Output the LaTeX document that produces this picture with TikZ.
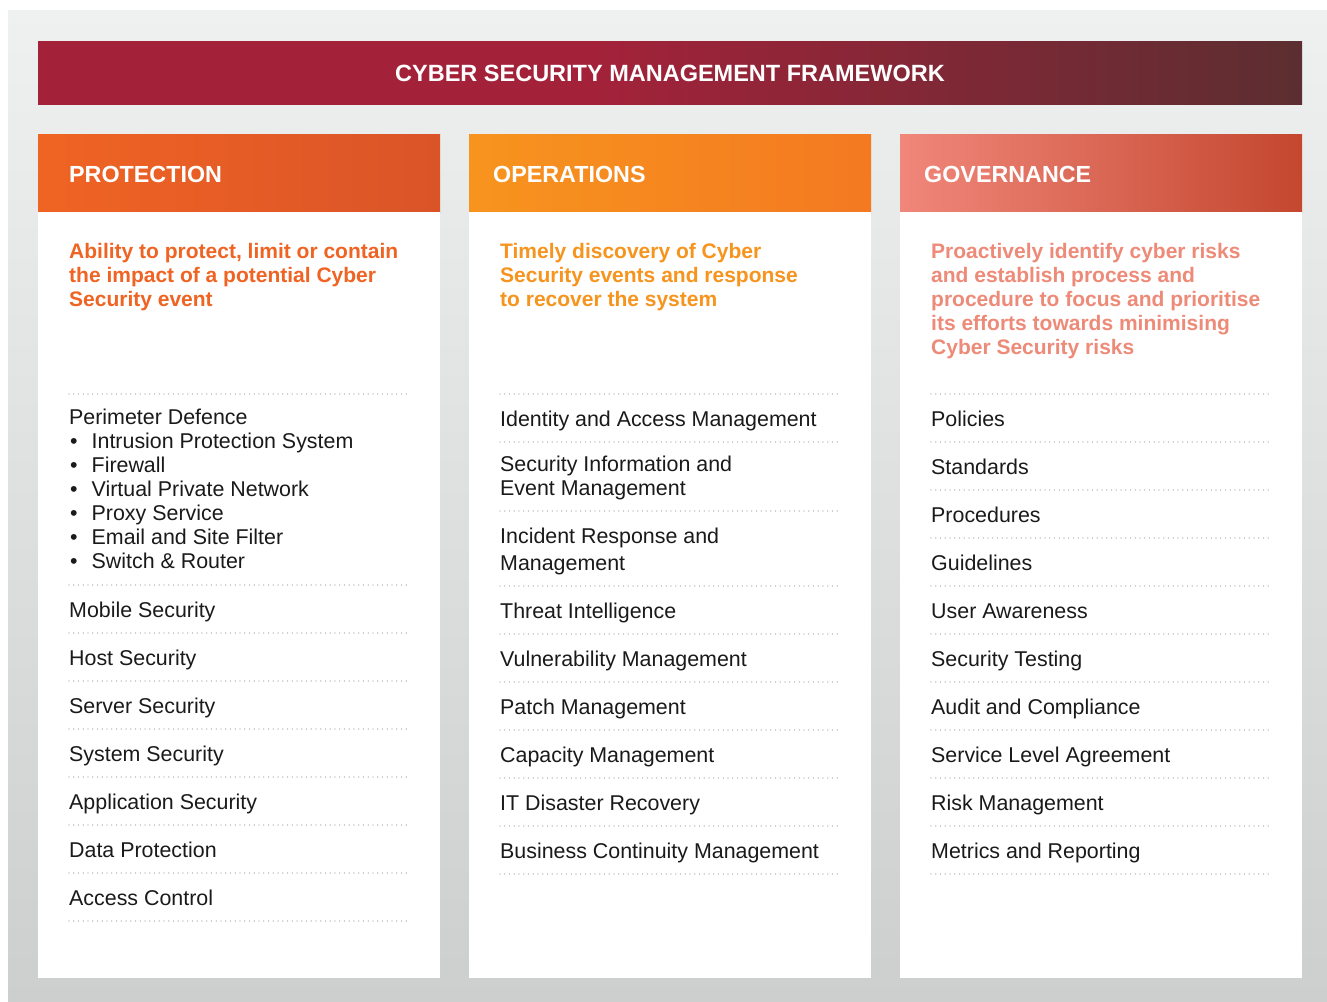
\documentclass[tikz,border=0pt]{standalone}
\usepackage{fontspec}
\setmainfont{Liberation Sans}
\definecolor{bgtop}{HTML}{EFF0F0}
\definecolor{bgbot}{HTML}{CDCFCF}
\definecolor{titleA}{HTML}{A3223A}
\definecolor{titleB}{HTML}{5C2E31}
\definecolor{pA}{HTML}{F06423}
\definecolor{pB}{HTML}{DA5428}
\definecolor{oA}{HTML}{F7941E}
\definecolor{oB}{HTML}{F47921}
\definecolor{gA}{HTML}{F0877A}
\definecolor{gB}{HTML}{C4472F}
\definecolor{cP}{HTML}{F06423}
\definecolor{cO}{HTML}{F7941E}
\definecolor{cG}{HTML}{EE8A78}
\definecolor{txt}{HTML}{1A1A1A}
\definecolor{dotc}{HTML}{9A9A9A}
\pgfdeclarehorizontalshading{titlesh}{100bp}{color(0bp)=(titleA); color(25bp)=(titleA); color(47bp)=(titleA); color(75bp)=(titleB); color(100bp)=(titleB)}
\tikzset{
  hdr/.style={anchor=base west, inner sep=0pt, text=white, font=\fontsize{23.3}{27}\selectfont\bfseries},
  desc/.style={anchor=base west, inner sep=0pt, align=left, font=\fontsize{21}{24}\selectfont\bfseries},
  item/.style={anchor=base west, inner sep=0pt, align=left, text=txt, font=\fontsize{21.4}{24}\selectfont},
  sep/.style={draw=dotc, line width=1.4pt, dash pattern=on 0pt off 4.75pt, line cap=round},
}
\newcommand{\bul}{\makebox[22.5pt][l]{\hspace{1pt}•}}
\begin{document}
\begin{tikzpicture}[x=1pt,y=-1pt]
\useasboundingbox (0,0) rectangle (1327,1001);
\fill[white] (0,0) rectangle (1327,1001);
\shade[top color=bgtop, bottom color=bgbot] (8,10) rectangle (1327,1001);
% title bar
\shade[shading=titlesh] (38,41) rectangle (1302,104);
\node[anchor=base, inner sep=0pt, text=white, font=\fontsize{23.5}{27}\selectfont\bfseries] (title) at (670,81) {CYBER SECURITY MANAGEMENT FRAMEWORK};
% column headers and bodies
\shade[left color=pA, right color=pB] (38,134) rectangle (440,212);
\shade[left color=oA, right color=oB] (469,134) rectangle (871,212);
\shade[left color=gA, right color=gB] (900,134) rectangle (1302,212);
\fill[white] (38,212) rectangle (440,978);
\fill[white] (469,212) rectangle (871,978);
\fill[white] (900,212) rectangle (1302,978);
\node[hdr] (h1) at (69,182) {PROTECTION};
\node[hdr] (h2) at (493,182) {OPERATIONS};
\node[hdr] (h3) at (924,182) {GOVERNANCE};
% descriptions (base anchor = baseline of last line)
\node[desc, text=cP] (d1) at (69,306) {Ability to protect, limit or contain\\the impact of a potential Cyber\\Security event};
\node[desc, text=cO] (d2) at (500,306) {Timely discovery of Cyber\\Security events and response\\to recover the system};
\node[desc, text=cG] (d3) at (931,354) {Proactively identify cyber risks\\and establish process and\\procedure to focus and prioritise\\its efforts towards minimising\\Cyber Security risks};
% separators
\foreach \y in {394,585,633,681,729,777,825,873,921} \draw[sep] (69,\y) -- (410,\y);
\foreach \y in {394,442,511,586,634,682,730,778,826,874} \draw[sep] (500,\y) -- (841,\y);
\foreach \y in {394,442,490,538,586,634,682,730,778,826,874} \draw[sep] (931,\y) -- (1272,\y);
% column 1 items
\node[item] (p1) at (69,568) {Perimeter Defence\\\bul Intrusion Protection System\\\bul Firewall\\\bul Virtual Private Network\\\bul Proxy Service\\\bul Email and Site Filter\\\bul Switch \& Router};
\node[item] (p2) at (69,617) {Mobile Security};
\node[item] (p3) at (69,665) {Host Security};
\node[item] (p4) at (69,713) {Server Security};
\node[item] (p5) at (69,761) {System Security};
\node[item] (p6) at (69,809) {Application Security};
\node[item] (p7) at (69,857) {Data Protection};
\node[item] (p8) at (69,905) {Access Control};
% column 2 items
\node[item] (o1) at (500,426) {Identity and Access Management};
\node[item] (o2) at (500,495) {Security Information and\\Event Management};
\node[item] (o3) at (500,570) {Incident Response and\\[3pt]Management};
\node[item] (o4) at (500,618) {Threat Intelligence};
\node[item] (o5) at (500,666) {Vulnerability Management};
\node[item] (o6) at (500,714) {Patch Management};
\node[item] (o7) at (500,762) {Capacity Management};
\node[item] (o8) at (500,810) {IT Disaster Recovery};
\node[item] (o9) at (500,858) {Business Continuity Management};
% column 3 items
\node[item] (g1) at (931,426) {Policies};
\node[item] (g2) at (931,474) {Standards};
\node[item] (g3) at (931,522) {Procedures};
\node[item] (g4) at (931,570) {Guidelines};
\node[item] (g5) at (931,618) {User Awareness};
\node[item] (g6) at (931,666) {Security Testing};
\node[item] (g7) at (931,714) {Audit and Compliance};
\node[item] (g8) at (931,762) {Service Level Agreement};
\node[item] (g9) at (931,810) {Risk Management};
\node[item] (g10) at (931,858) {Metrics and Reporting};
\end{tikzpicture}
\end{document}
